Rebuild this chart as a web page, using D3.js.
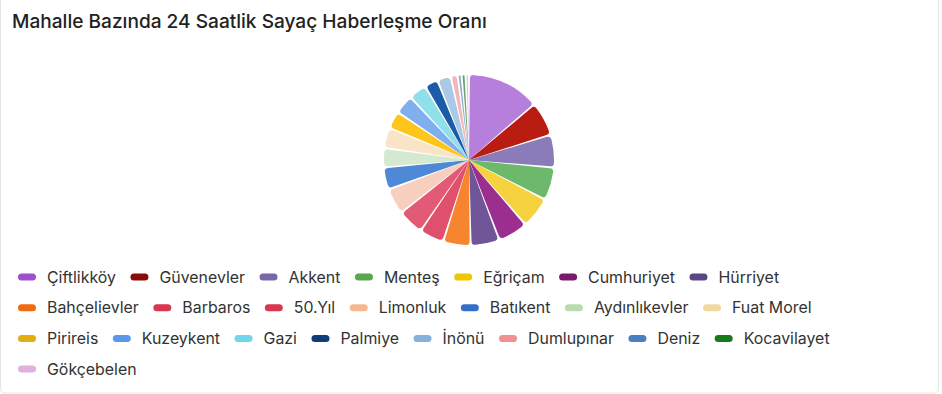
<!DOCTYPE html>
<html><head><meta charset="utf-8">
<script src="https://cdn.jsdelivr.net/npm/d3@7"></script>
<style>
html,body{margin:0;padding:0;background:#fff;}
svg{display:block;font-family:Inter,"Noto Sans",sans-serif;}
</style></head>
<body>
<svg id="chart" width="942" height="394"></svg>
<script>
const title = "Mahalle Bazında 24 Saatlik Sayaç Haberleşme Oranı";
const categories = ["Çiftlikköy","Güvenevler","Akkent","Menteş","Eğriçam","Cumhuriyet","Hürriyet","Bahçelievler","Barbaros","50.Yıl","Limonluk","Batıkent","Aydınlıkevler","Fuat Morel","Pirireis","Kuzeykent","Gazi","Palmiye","İnönü","Dumlupınar","Deniz","Kocavilayet","Gökçebelen"];
const values = [14.7,6.7,6.4,6.4,6.1,5.8,5.6,5.3,4.7,5.0,5.0,4.2,3.6,3.8,3.2,3.6,3.3,2.4,2.4,1.0,0.4,0.4,0.3];
const sliceColors = ["#b77fdc","#b91c10","#8a7cb9","#6db96b","#f6d23e","#9c2e90","#705598","#f7842f","#e04f6b","#e25a75","#f8cfbe","#4e89d8","#d5e9d0","#f9e4c8","#fdc61c","#80aff0","#90e0ec","#1b5ba7","#a9c9e5","#f5b6b9","#89afd1","#6ba16b","#e9c1e9"];
const legendColors = ["#9e4fd0","#8b0a0a","#7866a8","#5aa64f","#f0c800","#7a1a6a","#5a4585","#f06a10","#d93650","#d93650","#f5b893","#3570c8","#b8dcb0","#f0d8a0","#e0b010","#5a98ea","#70d8e8","#0f3d78","#85b2d8","#f09090","#4a80c0","#1a7a1a","#e0b0e0"];

const svg = d3.select("#chart");
const W = 942, H = 394;

svg.append("rect").attr("x",0.5).attr("y",-6).attr("width",938).attr("height",H+5)
  .attr("rx",4).attr("fill","#fff").attr("stroke","#e6e6e6");

svg.append("text").attr("x",12).attr("y",28).attr("font-size",19.1).attr("font-weight",500)
  .attr("fill","#222").text(title);

const data = categories.map((c,i)=>({name:c,value:values[i],slice:sliceColors[i],leg:legendColors[i]}));
const cx = 469, cy = 160, R = 85;
const pie = d3.pie().sort(null).value(d=>d.value).padAngle(0.024);
const arc = d3.arc().innerRadius(0).outerRadius(R).cornerRadius(3.5);
const g = svg.append("g").attr("transform",`translate(${cx},${cy})`);
g.selectAll("path").data(pie(data)).join("path")
  .attr("d",arc).attr("fill",d=>d.data.slice);

// legend with flow layout
const lg = svg.append("g");
const startX = 18, maxX = 880, rowY0 = 277, rowH = 30.7;
let x = startX, row = 0;
data.forEach(d=>{
  const item = lg.append("g");
  const t = item.append("text").attr("font-size",15.9).attr("fill","#333").attr("dy","0.35em").text(d.name);
  const tw = t.node().getComputedTextLength();
  const w = 18 + 11 + tw;
  if (x + w > maxX && x > startX) { row++; x = startX; }
  const y = rowY0 + row*rowH;
  item.append("rect").attr("x",x).attr("y",y-3.5).attr("width",18).attr("height",7).attr("rx",3.5).attr("fill",d.leg);
  t.attr("x",x+29).attr("y",y);
  x += w + 14.5;
});
</script>
</body></html>
